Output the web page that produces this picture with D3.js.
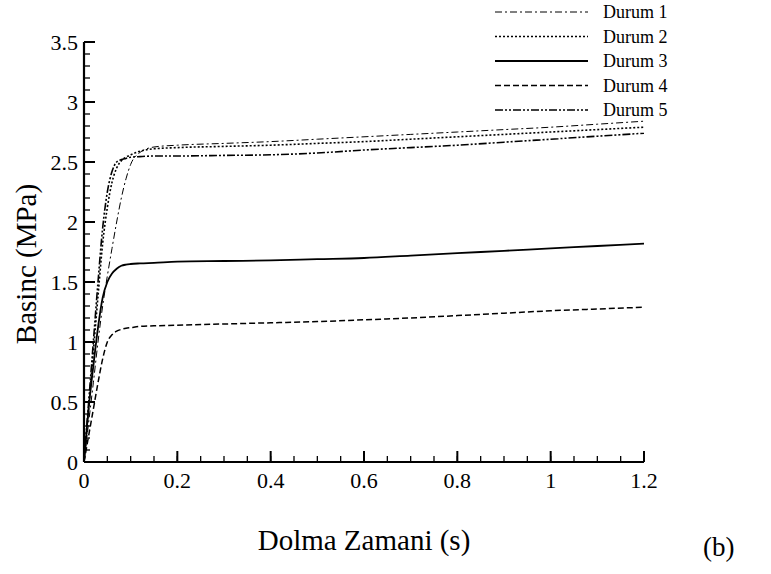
<!DOCTYPE html>
<meta charset="utf-8">
<style>
  body { margin: 0; background: #fff; }
  svg text { font-family: "Liberation Serif", "Times New Roman", Times, "Nimbus Roman", "FreeSerif", "Noto Serif", "DejaVu Serif", serif; }
</style>
<body>
<script src="https://d3js.org/d3.v7.min.js"></script>
<script>

var width = 771,
    height = 574;

// filling time (s), shared by all cases
var time = [0, 0.01, 0.02, 0.03, 0.04, 0.05, 0.06, 0.07, 0.08, 0.09, 0.1, 0.12, 0.15,
            0.2, 0.3, 0.4, 0.5, 0.6, 0.7, 0.8, 0.9, 1.0, 1.1, 1.2];

// pressure (MPa) per case
var durum1 = [0, 0.33, 0.66, 1.0, 1.3, 1.55, 1.78, 2.0, 2.2, 2.36, 2.48, 2.58, 2.625,
              2.64, 2.655, 2.67, 2.69, 2.71, 2.73, 2.75, 2.77, 2.79, 2.815, 2.84];
var durum2 = [0, 0.45, 0.92, 1.38, 1.82, 2.12, 2.33, 2.45, 2.51, 2.54, 2.56, 2.59, 2.61,
              2.62, 2.63, 2.64, 2.655, 2.67, 2.69, 2.71, 2.73, 2.75, 2.77, 2.79];
var durum3 = [0, 0.45, 0.8, 1.12, 1.37, 1.5, 1.57, 1.61, 1.635, 1.645, 1.65, 1.655, 1.66,
              1.67, 1.675, 1.68, 1.69, 1.70, 1.72, 1.74, 1.76, 1.78, 1.80, 1.82];
var durum4 = [0, 0.22, 0.44, 0.66, 0.86, 1.0, 1.06, 1.09, 1.105, 1.115, 1.12, 1.13, 1.135,
              1.14, 1.15, 1.16, 1.17, 1.185, 1.2, 1.22, 1.24, 1.26, 1.275, 1.29];
var durum5 = [0, 0.5, 1.0, 1.5, 1.95, 2.25, 2.42, 2.5, 2.52, 2.53, 2.54, 2.545, 2.55,
              2.55, 2.555, 2.56, 2.575, 2.6, 2.62, 2.64, 2.665, 2.69, 2.715, 2.74];

var names = ["Durum 1", "Durum 2", "Durum 3", "Durum 4", "Durum 5"];
var xTicks = [0, 0.2, 0.4, 0.6, 0.8, 1, 1.2];
var yTicks = [0, 0.5, 1, 1.5, 2, 2.5, 3, 3.5];

var series = [durum1, durum2, durum3, durum4, durum5];
var styles = [
  {dash: "7,3,2,3", w: 1},
  {dash: "2,2", w: 1.6},
  {dash: null, w: 1.8},
  {dash: "6,3", w: 1.5},
  {dash: "8,2,2,2,2,2", w: 1.6}
];

var svg = d3.select("body").append("svg")
    .attr("width", width)
    .attr("height", height);

var x = d3.scaleLinear().domain([0, 1.2]).range([84, 644]);
var y = d3.scaleLinear().domain([0, 3.5]).range([462, 42]);

// minor ticks
var xMinor = d3.range(0, 1.2001, 0.05);
var yMinor = d3.range(0, 3.5001, 0.1);

var axes = svg.append("g");

axes.selectAll(".xminor").data(xMinor).enter().append("line")
    .attr("x1", function(d) { return x(d); })
    .attr("x2", function(d) { return x(d); })
    .attr("y1", y(0)).attr("y2", y(0) - 6)
    .attr("stroke", "#000").attr("stroke-width", 1.3);
axes.selectAll(".xmajor").data(xTicks).enter().append("line")
    .attr("x1", function(d) { return x(d); })
    .attr("x2", function(d) { return x(d); })
    .attr("y1", y(0)).attr("y2", y(0) - 11)
    .attr("stroke", "#000").attr("stroke-width", 2);
axes.selectAll(".yminor").data(yMinor).enter().append("line")
    .attr("y1", function(d) { return y(d); })
    .attr("y2", function(d) { return y(d); })
    .attr("x1", x(0)).attr("x2", x(0) + 6)
    .attr("stroke", "#000").attr("stroke-width", 1.3);
axes.selectAll(".ymajor").data(yTicks).enter().append("line")
    .attr("y1", function(d) { return y(d); })
    .attr("y2", function(d) { return y(d); })
    .attr("x1", x(0)).attr("x2", x(0) + 11)
    .attr("stroke", "#000").attr("stroke-width", 2);

axes.append("line")
    .attr("x1", x(0)).attr("x2", x(1.2)).attr("y1", y(0)).attr("y2", y(0))
    .attr("stroke", "#000").attr("stroke-width", 2.2);
axes.append("line")
    .attr("x1", x(0)).attr("x2", x(0)).attr("y1", y(0)).attr("y2", y(3.5))
    .attr("stroke", "#000").attr("stroke-width", 2.2);

axes.selectAll(".xlab").data(xTicks).enter().append("text")
    .attr("x", function(d) { return x(d); })
    .attr("y", y(0) + 26)
    .attr("text-anchor", "middle")
    .attr("font-size", 22)
    .text(function(d) { return d; });
axes.selectAll(".ylab").data(yTicks).enter().append("text")
    .attr("x", x(0) - 6)
    .attr("y", function(d) { return y(d) + 8; })
    .attr("text-anchor", "end")
    .attr("font-size", 22)
    .text(function(d) { return d; });

svg.append("text")
    .attr("x", (x(0) + x(1.2)) / 2)
    .attr("y", 550)
    .attr("text-anchor", "middle")
    .attr("font-size", 29)
    .text("Dolma Zamani (s)");

svg.append("text")
    .attr("transform", "translate(36," + (y(1.65)) + ") rotate(-90)")
    .attr("text-anchor", "middle")
    .attr("font-size", 29)
    .text("Basinc (MPa)");

svg.append("text")
    .attr("x", 703).attr("y", 556)
    .attr("font-size", 27)
    .text("(b)");

// curves
var line = d3.line()
    .x(function(d, i) { return x(time[i]); })
    .y(function(d) { return y(d); })
    .curve(d3.curveMonotoneX);

svg.append("g").selectAll("path").data(series).enter().append("path")
    .attr("d", line)
    .attr("fill", "none")
    .attr("stroke", "#000")
    .attr("stroke-width", function(d, i) { return styles[i].w; })
    .attr("stroke-dasharray", function(d, i) { return styles[i].dash; });

// legend
var leg = svg.append("g").selectAll("g").data(names).enter().append("g")
    .attr("transform", function(d, i) { return "translate(0," + (12 + i * 24.5) + ")"; });
leg.append("line")
    .attr("x1", 495).attr("x2", 588).attr("y1", 0).attr("y2", 0)
    .attr("stroke", "#000")
    .attr("stroke-width", function(d, i) { return styles[i].w; })
    .attr("stroke-dasharray", function(d, i) { return styles[i].dash; });
leg.append("text")
    .attr("x", 603).attr("y", 6)
    .attr("font-size", 18)
    .text(function(d) { return d; });

</script>
</body>
